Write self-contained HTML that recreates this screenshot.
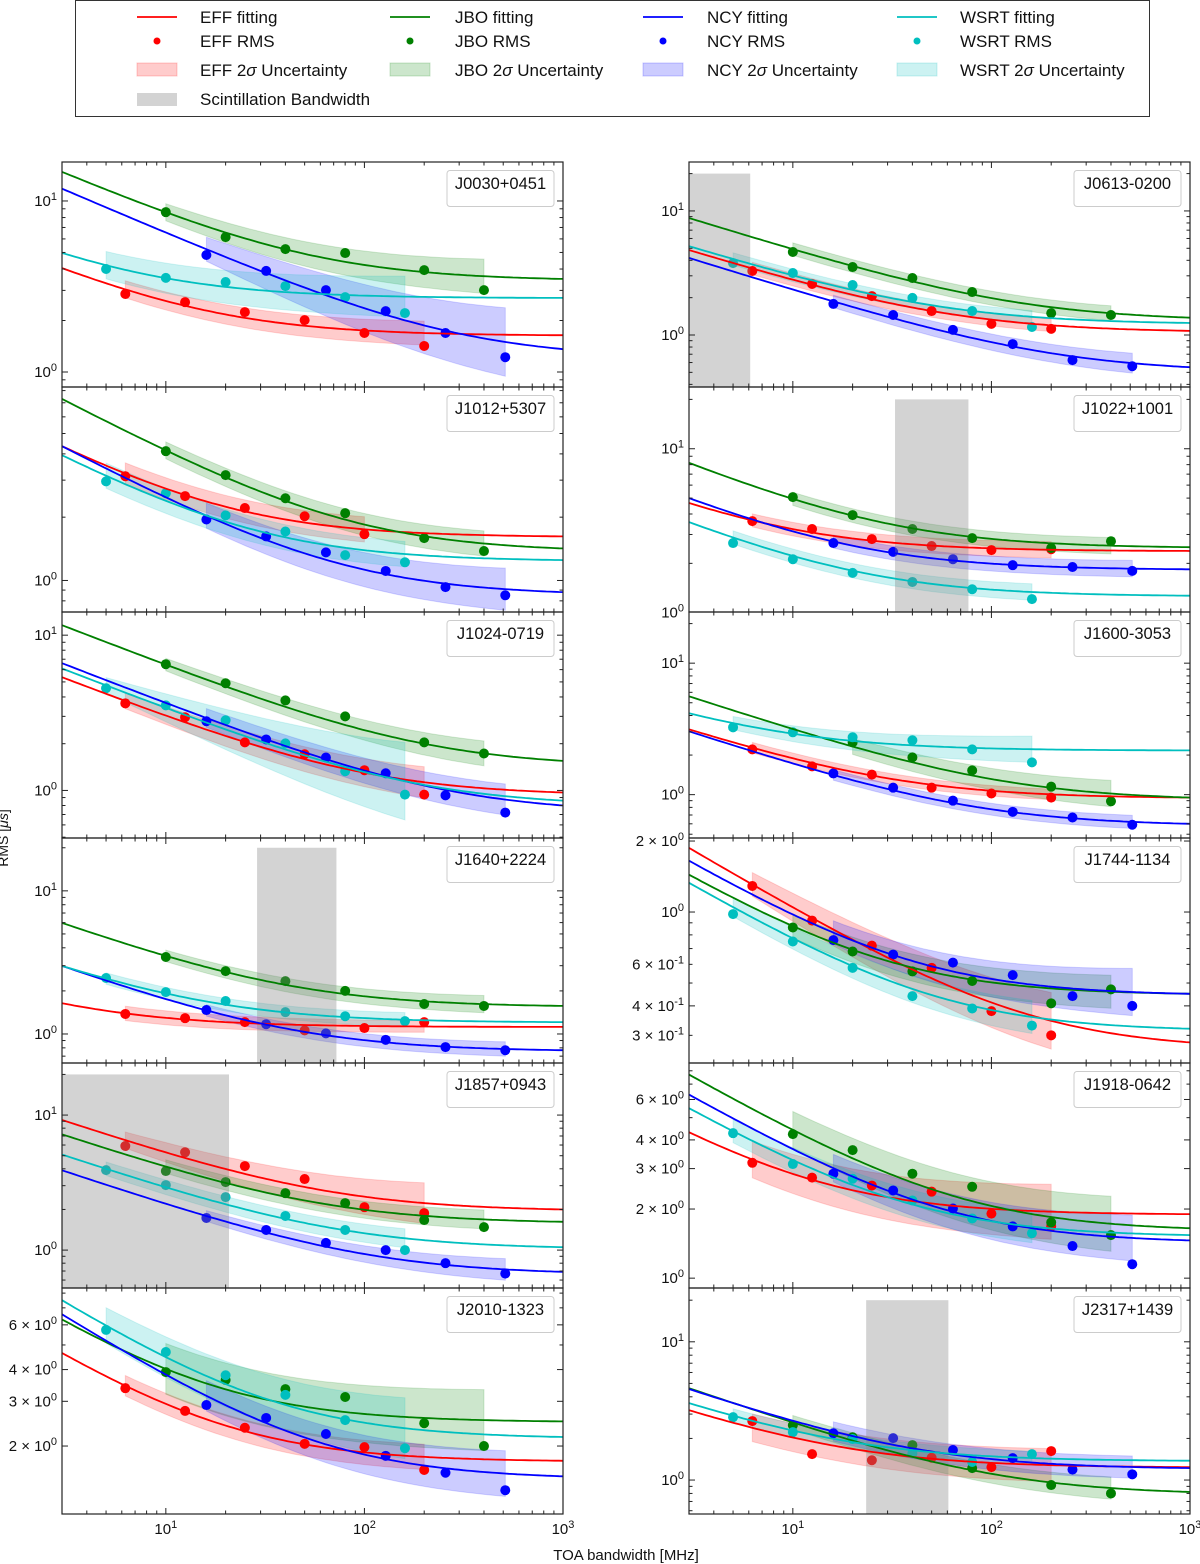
<!DOCTYPE html>
<html><head><meta charset="utf-8"><style>
html,body{margin:0;padding:0;background:#fff;}
svg{display:block;font-family:"Liberation Sans","DejaVu Sans",sans-serif;}
</style></head><body>
<svg id="fig" width="1200" height="1564" viewBox="0 0 1200 1564" xmlns="http://www.w3.org/2000/svg">
<g id="legend">
<rect x="75.5" y="0.5" width="1074" height="116" fill="#fff" stroke="#333" stroke-width="1"/>
</g>
<text x="8" y="838" transform="rotate(-90 8 838)" text-anchor="middle" font-size="14" fill="#111">RMS [<tspan font-style="italic">μs</tspan>]</text>
<text x="626" y="1560" text-anchor="middle" font-size="15" fill="#111">TOA bandwidth [MHz]</text>
</svg>
<script>
const pulsars = ["J0030+0451","J0613-0200","J1012+5307","J1022+1001","J1024-0719","J1600-3053","J1640+2224","J1744-1134","J1857+0943","J1918-0642","J2010-1323","J2317+1439"];
const bwEFF = [6.25,12.5,25,50,100,200];
const bwJBO = [10,20,40,80,200,400];
const bwNCY = [16,32,64,128,256,512];
const bwWSRT = [5,10,20,40,80,160];
const rmsEFF = [
 [2.86,2.56,2.24,2.01,1.69,1.42],
 [3.28,2.58,2.06,1.56,1.23,1.12],
 [3.13,2.52,2.21,2.02,1.66,null],
 [3.62,3.24,2.81,2.55,2.41,2.44],
 [3.64,2.96,2.04,1.71,1.35,0.94],
 [2.21,1.64,1.42,1.13,1.02,0.95],
 [1.38,1.29,1.21,1.06,1.10,1.21],
 [1.29,0.92,0.72,0.58,0.38,0.30],
 [5.9,5.3,4.19,3.36,2.08,1.88],
 [3.18,2.74,2.53,2.38,1.91,1.68],
 [3.38,2.75,2.36,2.04,1.98,1.61],
 [2.67,1.54,1.39,1.45,1.24,1.62]];
const rmsJBO = [
 [8.6,6.15,5.23,4.96,3.94,3.01],
 [4.67,3.53,2.88,2.22,1.50,1.45],
 [4.12,3.17,2.46,2.09,1.59,1.38],
 [5.07,3.94,3.24,2.85,2.48,2.73],
 [6.5,4.9,3.8,3.0,2.04,1.73],
 [null,2.5,1.92,1.53,1.15,0.89],
 [3.45,2.75,2.34,2.0,1.62,1.57],
 [0.86,0.68,0.56,0.51,0.41,0.47],
 [3.85,3.19,2.64,2.23,1.67,1.48],
 [4.24,3.61,2.85,2.5,1.75,1.54],
 [3.91,3.64,3.35,3.12,2.46,2.0],
 [2.49,2.04,1.79,1.22,0.92,0.80]];
const rmsNCY = [
 [4.83,3.9,3.01,2.27,1.69,1.22],
 [1.78,1.45,1.10,0.845,0.628,0.56],
 [1.95,1.62,1.36,1.11,0.93,0.85],
 [2.66,2.35,2.12,1.95,1.9,1.8],
 [2.79,2.13,1.63,1.29,0.93,0.72],
 [1.45,1.13,0.90,0.74,0.67,0.59],
 [1.47,1.17,1.01,0.91,0.81,0.77],
 [0.76,0.66,0.61,0.54,0.44,0.40],
 [1.73,1.41,1.13,1.0,0.80,0.67],
 [2.85,2.41,2.01,1.68,1.38,1.15],
 [2.9,2.58,2.23,1.83,1.57,1.34],
 [2.18,2.01,1.65,1.44,1.19,1.10]];
const rmsWSRT = [
 [4.0,3.55,3.36,3.18,2.74,2.21],
 [3.8,3.16,2.53,1.99,1.56,1.16],
 [2.96,2.6,2.04,1.71,1.32,1.22],
 [2.66,2.12,1.75,1.54,1.39,1.21],
 [4.55,3.53,2.83,2.01,1.33,0.94],
 [3.25,2.98,2.73,2.59,2.21,1.76],
 [2.46,1.96,1.70,1.42,1.33,1.23],
 [0.98,0.75,0.58,0.44,0.39,0.33],
 [3.91,3.03,2.47,1.79,1.41,1.0],
 [4.28,3.14,2.71,2.18,1.82,1.57],
 [5.73,4.69,3.8,3.18,2.53,1.96],
 [2.85,2.22,1.98,1.56,1.35,1.54]];
// fitted RMS at 3 MHz and at 1000 MHz
const fitEFF = [[4.05,1.64],[4.84,1.08],[4.35,1.62],[4.67,2.38],[5.36,0.97],[3.14,0.95],[1.64,1.12],[1.87,0.28],[9.2,2.0],[4.32,1.9],[4.65,1.75],[3.2,1.24]];
const fitJBO = [[14.8,3.5],[8.77,1.38],[7.3,1.42],[8.2,2.51],[11.6,1.55],[5.6,0.95],[5.97,1.57],[1.44,0.45],[7.2,1.62],[7.7,1.65],[6.3,2.5],[4.62,0.82]];
const fitNCY = [[11.8,1.36],[4.18,0.55],[4.35,0.88],[5.0,1.84],[6.6,0.80],[3.03,0.6],[2.99,0.77],[1.65,0.45],[3.9,0.69],[6.3,1.46],[6.6,1.52],[4.55,1.22]];
const fitWSRT = [[4.97,2.71],[5.2,1.25],[3.94,1.25],[3.57,1.27],[6.1,0.86],[4.16,2.17],[2.99,1.21],[1.33,0.32],[5.1,1.05],[5.5,1.54],[7.5,2.17],[3.6,1.38]];
// 2-sigma band half-width (dex) at first and last bandwidth
const bandEFF = [[0.05,0.07],[0.05,0.05],[0.05,0.06],[0.04,0.05],[0.05,0.1],[0.04,0.04],[0.05,0.04],[0.05,0.12],[0.06,0.15],[0.08,0.12],[0.04,0.05],[0.1,0.12]];
const bandJBO = [[0.05,0.1],[0.05,0.06],[0.04,0.06],[0.04,0.05],[0.04,0.08],[0.06,0.1],[0.04,0.06],[0.05,0.07],[0.05,0.07],[0.08,0.12],[0.1,0.12],[0.05,0.08]];
const bandNCY = [[0.07,0.2],[0.05,0.08],[0.06,0.1],[0.04,0.05],[0.06,0.1],[0.04,0.05],[0.04,0.05],[0.05,0.1],[0.04,0.08],[0.06,0.1],[0.06,0.09],[0.07,0.08]];
const bandWSRT = [[0.08,0.12],[0.05,0.05],[0.06,0.06],[0.04,0.05],[0.05,0.25],[0.05,0.1],[0.04,0.05],[0.04,0.07],[0.05,0.07],[0.05,0.07],[0.07,0.12],[0.05,0.05]];
const scintBW = [null,[3,6.1],null,[32.7,76.6],null,null,[28.8,72.3],null,[3,20.8],null,null,[23.4,60.7]];
const scintTop = 20;
const yLim = [[0.817,16.9],[0.381,24.8],[0.708,8.32],[1.01,23.8],[0.494,14.1],[0.468,24.5],[0.627,23.4],[0.229,2.06],[0.524,24.3],[0.906,8.65],[1.08,8.38],[0.568,24.5]];
const yTickVals = [[1,10],[1,10],[1],[1,10],[1,10],[1,10],[1,10],[0.3,0.4,0.6,1,2],[1,10],[1,2,3,4,6],[2,3,4,6],[1,10]];
const yTickLabels = [["0","1"],["0","1"],["0"],["0","1"],["0","1"],["0","1"],["0","1"],["3|-1","4|-1","6|-1","0","2|0"],["0","1"],["0","2|0","3|0","4|0","6|0"],["2|0","3|0","4|0","6|0"],["0","1"]];
const xLim = [3,1000];
const xTickVals = [10,100,1000];
const xTickLabels = ["1","2","3"];

const NS = "http://www.w3.org/2000/svg";
const svg = document.getElementById('fig');
const colors = {EFF:"#ff0000", JBO:"#008000", NCY:"#0000ff", WSRT:"#00bfbf"};
const rowTops = [162,387,612,838,1063,1288,1514];
const colX = [[62,563],[689,1190]];
function mk(tag, attrs, parent){const e=document.createElementNS(NS,tag);for(const k in attrs)e.setAttribute(k,attrs[k]);(parent||svg).appendChild(e);return e;}
function powLabel(parent, x, y, lab, anchor){
  const t = mk('text',{x:x,y:y,'font-size':15,'text-anchor':anchor,fill:'#111'},parent);
  const parts = lab.split('|');
  if(parts.length===2){t.appendChild(document.createTextNode(parts[0]+" × 10"));}
  else t.appendChild(document.createTextNode("10"));
  const s = mk('tspan',{dy:-6,'font-size':11},t);
  s.textContent = parts.length===2?parts[1]:parts[0];
  return t;
}
const series = [
  {k:"EFF",bw:bwEFF,rms:rmsEFF,fit:fitEFF,band:bandEFF},
  {k:"JBO",bw:bwJBO,rms:rmsJBO,fit:fitJBO,band:bandJBO},
  {k:"NCY",bw:bwNCY,rms:rmsNCY,fit:fitNCY,band:bandNCY},
  {k:"WSRT",bw:bwWSRT,rms:rmsWSRT,fit:fitWSRT,band:bandWSRT}];

pulsars.forEach((name,i)=>{
  const row = Math.floor(i/2), col = i%2;
  const X0 = colX[col][0], X1 = colX[col][1], Y0 = rowTops[row], Y1 = rowTops[row+1];
  const lx0 = Math.log10(xLim[0]), lx1 = Math.log10(xLim[1]);
  const ly0 = Math.log10(yLim[i][0]), ly1 = Math.log10(yLim[i][1]);
  const sx = v => X0 + (Math.log10(v)-lx0)/(lx1-lx0)*(X1-X0);
  const sy = v => Y1 - (Math.log10(v)-ly0)/(ly1-ly0)*(Y1-Y0);
  const g = mk('g',{});
  
  
  const cid = 'clip'+i;
  const cp = mk('clipPath',{id:cid},g); mk('rect',{x:X0,y:Y0,width:X1-X0,height:Y1-Y0},cp);
  const plot = mk('g',{'clip-path':'url(#'+cid+')'},g);
  const fitFn = f => { const A=(f[0]*f[0]-f[1]*f[1])/(1/3-1/1000); const C=Math.max(f[1]*f[1]-A/1000,0); return b=>Math.sqrt(A/b+C); };
  series.forEach(s=>{
    const r = s.rms[i]; const bws = s.bw.filter((b,j)=>r[j]!=null);
    const b0 = bws[0], b1 = bws[bws.length-1]; const w = s.band[i]; const f = fitFn(s.fit[i]);
    const up=[], lo=[]; const N=30;
    for(let n=0;n<=N;n++){const t=n/N; const b=Math.pow(10,Math.log10(b0)+t*(Math.log10(b1)-Math.log10(b0))); const hw=w[0]+t*(w[1]-w[0]); const c=f(b);
      up.push(sx(b).toFixed(1)+','+sy(c*Math.pow(10,hw)).toFixed(1)); lo.unshift(sx(b).toFixed(1)+','+sy(c/Math.pow(10,hw)).toFixed(1));}
    const p = mk('polygon',{points:up.concat(lo).join(' '),fill:colors[s.k],'fill-opacity':0.2,stroke:colors[s.k],'stroke-opacity':0.15},plot);
    
    
  });
  series.forEach(s=>{
    s.rms[i].forEach((v,j)=>{ if(v==null) return;
      const c = mk('circle',{cx:sx(s.bw[j]),cy:sy(v),r:5,fill:colors[s.k]},plot);
      
      
    });
  });
  if(scintBW[i]){
    const r = mk('rect',{x:sx(scintBW[i][0]),y:sy(scintTop),width:sx(scintBW[i][1])-sx(scintBW[i][0]),height:Y1-sy(scintTop)+2,fill:'#808080','fill-opacity':0.35},plot);
    
    
  }
  series.forEach(s=>{
    const f = fitFn(s.fit[i]); const pts=[];
    for(let n=0;n<=120;n++){const b=Math.pow(10,lx0+n/120*(lx1-lx0)); pts.push(sx(b).toFixed(1)+','+sy(f(b)).toFixed(1));}
    const l = mk('polyline',{points:pts.join(' '),fill:'none',stroke:colors[s.k],'stroke-width':1.8},plot);
    
    
  });
  mk('rect',{x:X0,y:Y0,width:X1-X0,height:Y1-Y0,fill:'none',stroke:'#222','stroke-width':1.2},g);
  for(let d=0; d<4; d++){ for(let m=1;m<10;m++){ const v=m*Math.pow(10,d); if(v<xLim[0]||v>xLim[1]) continue; const x=sx(v); const L=m===1?6:3.5;
    mk('line',{x1:x,y1:Y1,x2:x,y2:Y1-L,stroke:'#222'},g); mk('line',{x1:x,y1:Y0,x2:x,y2:Y0+L,stroke:'#222'},g);} }
  if(row===5){ xTickVals.forEach((v,k)=>{ const t=powLabel(g, sx(v), 1534, xTickLabels[k], 'middle');
      }); }
  for(let d=-2; d<3; d++){ for(let m=1;m<10;m++){ const v=m*Math.pow(10,d); if(v<yLim[i][0]||v>yLim[i][1]) continue; const y=sy(v); const major = yTickVals[i].indexOf(v)>=0 || m===1; const L=major?6:3.5;
    mk('line',{x1:X0,y1:y,x2:X0+L,y2:y,stroke:'#222'},g); mk('line',{x1:X1,y1:y,x2:X1-L,y2:y,stroke:'#222'},g);} }
  yTickVals[i].forEach((v,k)=>{ const t=powLabel(g, X0-5, sy(v)+5, yTickLabels[i][k], 'end');
      });
  const bx = mk('rect',{x:X1-116,y:Y0+8.5,width:107,height:36,rx:3,fill:'#fff','fill-opacity':0.8,stroke:'#ccc'},g);
   
  const nt = mk('text',{x:X1-62.5,y:Y0+27,'text-anchor':'middle','font-size':16.5,fill:'#111'},g);
  nt.textContent = name;
   
});

const lg = document.getElementById('legend');
const legendCols = [{k:"EFF",lx:137,tx:200},{k:"JBO",lx:390,tx:455},{k:"NCY",lx:643,tx:707},{k:"WSRT",lx:897,tx:960}];
legendCols.forEach(c=>{
  const col = colors[c.k];
  const a = mk('line',{x1:c.lx,y1:17,x2:c.lx+40,y2:17,stroke:col,'stroke-width':1.8},lg);
   
  const t1 = mk('text',{x:c.tx,y:23,'font-size':17,fill:'#111'},lg); t1.textContent = c.k+" fitting";
   
  const d = mk('circle',{cx:c.lx+20,cy:41,r:3.5,fill:col},lg);
   
  const t2 = mk('text',{x:c.tx,y:47,'font-size':17,fill:'#111'},lg); t2.textContent = c.k+" RMS";
   
  const p = mk('rect',{x:c.lx,y:63,width:40,height:13,fill:col,'fill-opacity':0.2,stroke:col,'stroke-opacity':0.2},lg);
   
  const t3 = mk('text',{x:c.tx,y:76,'font-size':17,fill:'#111'},lg);
  t3.appendChild(document.createTextNode(c.k+" 2"));
  const sg = mk('tspan',{'font-style':'italic'},t3); sg.textContent='σ';
  t3.appendChild(document.createTextNode(" Uncertainty"));
   
});
const sgr = mk('rect',{x:137,y:93,width:40,height:13,fill:'#808080','fill-opacity':0.35},lg);
 
const sgt = mk('text',{x:200,y:105,'font-size':17,fill:'#111'},lg); sgt.textContent='Scintillation Bandwidth';
 
</script>
</body></html>
